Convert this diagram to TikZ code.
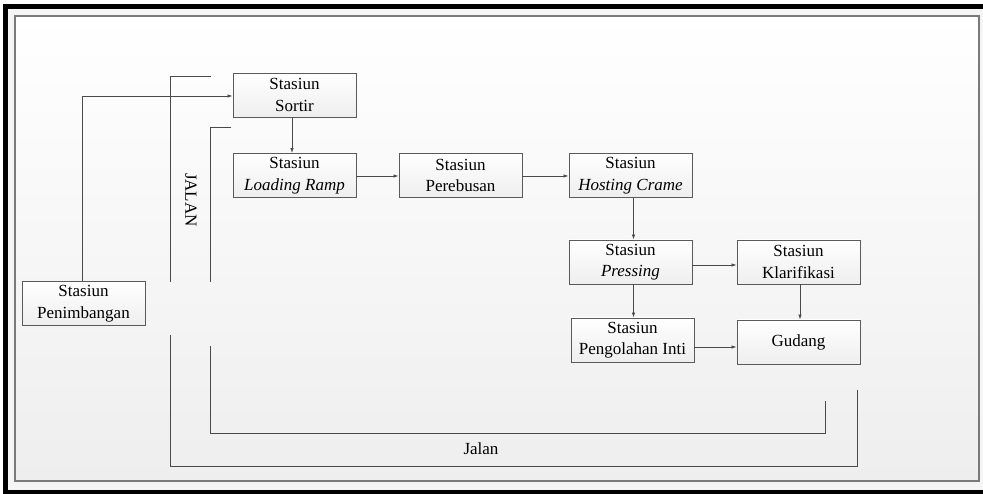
\documentclass[tikz,border=0pt]{standalone}
\usepackage{fontspec}
\setmainfont{Liberation Serif}
\newfontfamily\tnr{Liberation Serif}
\usetikzlibrary{arrows.meta,shadows}
\definecolor{framegray}{HTML}{7A7A7A}
\definecolor{boxline}{HTML}{5A5A5A}
\definecolor{linegray}{HTML}{4A4A4A}
\definecolor{bgbottom}{HTML}{EEEEEE}
\begin{document}
\begin{tikzpicture}[x=1pt,y=-1pt,
  stbox/.style={draw=boxline, line width=0.9pt, top color=white, bottom color=bgbottom,
    minimum width=123pt, minimum height=44pt, inner sep=0pt, align=center,
    font=\tnr\fontsize{17}{21.5}\selectfont,
    general shadow={fill=black!18, shadow xshift=1pt, shadow yshift=-1pt}},
  flow/.style={draw=linegray, line width=0.8pt, -{Latex[length=5pt,width=3.5pt]}},
  road/.style={draw=linegray, line width=0.9pt},
  lbl/.style={font=\tnr\fontsize{17}{21.5}\selectfont, inner sep=0pt}]
\useasboundingbox (0,0) rectangle (983,494);
% page background and black border
\fill[white] (0,0) rectangle (983,494);
\fill[black!4] (8,9) rectangle (983,490);
\fill[black] (3,4) rectangle (983,9);
\fill[black] (3,4) rectangle (8,494);
\fill[black] (3,490) rectangle (983,494);
% inner frame with gradient
\shade[top color=white, bottom color=bgbottom] (15,16) rectangle (979,481);
\draw[framegray, line width=1.2pt] (15,16) rectangle (979,481);

% boxes
\node[stbox] (sortir) at (294.5,95) {Stasiun\\Sortir};
\node[stbox] (ramp) at (294.5,175.5) {Stasiun\\\textit{Loading Ramp}};
\node[stbox] (rebus) at (460.5,175.5) {Stasiun\\Perebusan};
\node[stbox] (host) at (630.5,175.5) {Stasiun\\\textit{Hosting Crame}};
\node[stbox] (press) at (630.5,262) {Stasiun\\\textit{Pressing}};
\node[stbox] (klar) at (798.5,262) {Stasiun\\Klarifikasi};
\node[stbox] (inti) at (632.5,340) {Stasiun\\Pengolahan Inti};
\node[stbox] (gudang) at (798.5,342) {Gudang};
\node[stbox] (timbang) at (83.5,303.5) {Stasiun\\Penimbangan};

% flow connectors
\draw[flow] (timbang.north -| 82,0) -- (82,96) -- (sortir.west |- 0,96);
\draw[flow] (sortir.south -| 292,0) -- (ramp.north -| 292,0);
\draw[flow] (ramp.east |- 0,176) -- (rebus.west |- 0,176);
\draw[flow] (rebus.east |- 0,176) -- (host.west |- 0,176);
\draw[flow] (host.south -| 633.5,0) -- (press.north -| 633.5,0);
\draw[flow] (press.east |- 0,265) -- (klar.west |- 0,265);
\draw[flow] (press.south -| 633.5,0) -- (inti.north -| 633.5,0);
\draw[flow] (klar.south -| 800,0) -- (gudang.north -| 800,0);
\draw[flow] (inti.east |- 0,347) -- (gudang.west |- 0,347);

% roads
\coordinate (oa) at (211,76);
\coordinate (ob) at (170,282);
\coordinate (oc) at (170,335);
\coordinate (od) at (857,390);
\coordinate (ia) at (231,127);
\coordinate (ib) at (210,282);
\coordinate (ic) at (210,346);
\coordinate (id) at (825,401);
\draw[road] (oa) -- (oa -| ob) -- (ob);
\draw[road] (oc) -- (170,466) -- (od |- 0,466) -- (od);
\draw[road] (ia) -- (ia -| ib) -- (ib);
\draw[road] (ic) -- (210,433) -- (id |- 0,433) -- (id);
\node[lbl, rotate=-90] (jalanv) at (191,200) {JALAN};
\node[lbl] (jalanh) at (481,449) {Jalan};
\end{tikzpicture}
\end{document}
